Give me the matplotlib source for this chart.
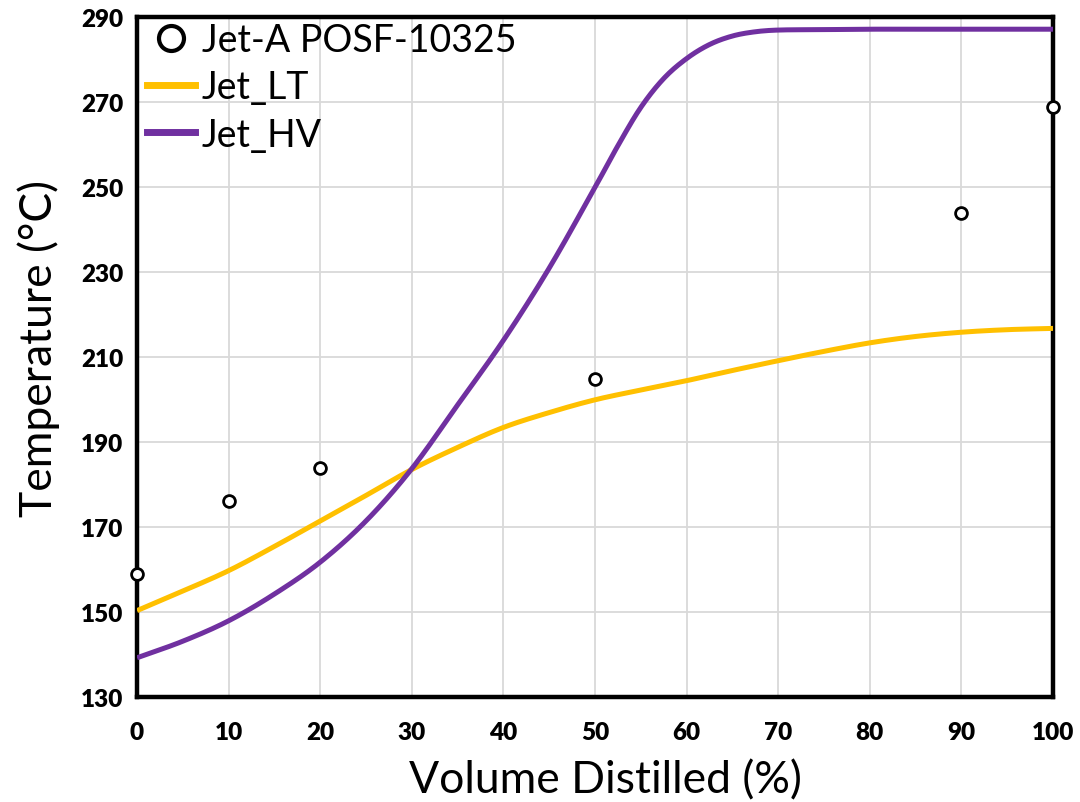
import numpy as np
import matplotlib
matplotlib.use("Agg")
import matplotlib.pyplot as plt
from matplotlib.lines import Line2D

plt.rcParams['font.family'] = ['Lato', 'DejaVu Sans']

# Measured distillation curve
jet_a_x = [0, 10, 20, 50, 90, 100]
jet_a_y = [158.9, 176.1, 183.9, 204.8, 243.9, 268.8]

# Surrogate model curves (volume distilled in %)
lt_vol = [0, 5, 10, 15, 20, 25, 30, 35, 40, 45, 50, 55, 60, 65, 70, 75, 80, 85, 90, 95, 100]
jet_lt = [150.4, 155.0, 159.8, 165.5, 171.5, 177.5, 183.6, 188.8, 193.5, 197.0, 200.0,
          202.3, 204.5, 206.9, 209.2, 211.4, 213.4, 214.9, 215.9, 216.5, 216.8]
hv_vol = [0, 5, 10, 15, 20, 25, 30, 35, 40, 45, 50, 52.5, 55, 57.5, 60, 62.5, 65, 67.5,
          70, 75, 80, 85, 90, 95, 100]
jet_hv = [139.3, 143.2, 148.0, 154.3, 161.8, 171.5, 183.8, 198.8, 214.0, 231.0, 250.0,
          259.8, 268.8, 275.6, 280.3, 283.6, 285.6, 286.6, 287.0, 287.1, 287.2, 287.2,
          287.2, 287.2, 287.2]

x_ticks = list(range(0, 101, 10))
y_ticks = list(range(130, 291, 20))

LT_COLOR = '#FFC000'
HV_COLOR = '#7030A0'


def smooth(x, y, n=600):
    """Cardinal (Catmull-Rom) cubic through the given points, for a smooth line."""
    x = np.asarray(x, float)
    y = np.asarray(y, float)
    h = np.diff(x)
    m = np.empty_like(y)
    m[1:-1] = (y[2:] - y[:-2]) / (x[2:] - x[:-2])
    m[0] = (y[1] - y[0]) / h[0]
    m[-1] = (y[-1] - y[-2]) / h[-1]
    xs = np.linspace(x[0], x[-1], n)
    idx = np.clip(np.searchsorted(x, xs) - 1, 0, len(x) - 2)
    t = (xs - x[idx]) / h[idx]
    h00 = 2 * t**3 - 3 * t**2 + 1
    h10 = t**3 - 2 * t**2 + t
    h01 = -2 * t**3 + 3 * t**2
    h11 = t**3 - t**2
    ys = h00 * y[idx] + h10 * h[idx] * m[idx] + h01 * y[idx + 1] + h11 * h[idx] * m[idx + 1]
    return xs, ys


fig = plt.figure(figsize=(10.8, 8.03), dpi=100)
ax = fig.add_axes([0.1269, 0.1304, 0.975 - 0.1269, 0.9772 - 0.1304])

xs, ys = smooth(lt_vol, jet_lt)
ax.plot(xs, ys, color=LT_COLOR, lw=3.6, solid_capstyle='butt', zorder=3)
xs, ys = smooth(hv_vol, jet_hv)
ax.plot(xs, ys, color=HV_COLOR, lw=3.6, solid_capstyle='butt', zorder=3)

ax.plot(jet_a_x, jet_a_y, ls='none', marker='o', ms=8.5, mfc='white', mec='black',
        mew=2.0, zorder=5, clip_on=False)

ax.set_xlim(0, 100)
ax.set_ylim(130, 290)
ax.set_xticks(x_ticks)
ax.set_yticks(y_ticks)
ax.grid(True, color='#d9d9d9', lw=1.3)
ax.set_axisbelow(True)
for s in ax.spines.values():
    s.set_linewidth(3.2)
    s.set_color('black')
ax.tick_params(length=0, labelsize=17.5, pad=10)
ax.tick_params(axis='x', pad=17)
for lab in ax.get_xticklabels() + ax.get_yticklabels():
    lab.set_fontweight('heavy')

ax.set_xlabel('Volume Distilled (%)', fontsize=32, labelpad=12)
ax.set_ylabel('Temperature (°C)', fontsize=32, labelpad=15)
ax.xaxis.label.set_x(0.511)
ax.yaxis.label.set_y(0.515)

handles = [
    Line2D([], [], ls='none', marker='o', ms=18, mfc='white', mec='black', mew=3.0),
    Line2D([], [], color=LT_COLOR, lw=5),
    Line2D([], [], color=HV_COLOR, lw=5),
]
ax.legend(handles, ['Jet-A POSF-10325', 'Jet_LT', 'Jet_HV'], loc='upper left',
          bbox_to_anchor=(-0.006, 1.015), frameon=False, fontsize=27,
          handlelength=1.28, handletextpad=0.2, labelspacing=0.3, borderaxespad=0.0)

fig.savefig('out.png', dpi=100)
